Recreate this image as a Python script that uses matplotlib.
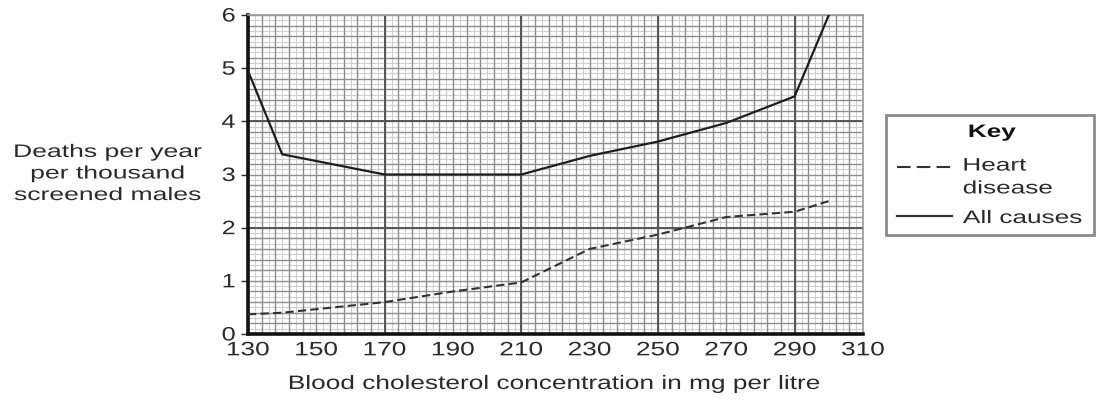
import matplotlib.pyplot as plt
from matplotlib.lines import Line2D
from matplotlib.patches import Rectangle
from matplotlib.patheffects import AbstractPathEffect
from matplotlib.transforms import Affine2D

plt.rcParams['font.family'] = ['Liberation Sans', 'DejaVu Sans']

# cholesterol (mg per litre) and deaths per year per thousand screened males
colesterol_todas = [130, 140, 170, 210, 230, 250, 270, 290, 300]
muertes_todas = [4.95, 3.38, 3.0, 3.0, 3.35, 3.62, 3.97, 4.47, 6.0]

colesterol_corazon = [130, 140, 170, 190, 210, 230, 250, 270, 290, 300]
muertes_corazon = [0.37, 0.4, 0.6, 0.8, 0.97, 1.6, 1.87, 2.2, 2.3, 2.5]

ticks_x = [130, 150, 170, 190, 210, 230, 250, 270, 290, 310]
ticks_y = [0, 1, 2, 3, 4, 5, 6]

TINTA = '#2a2a2a'


# letra ensanchada: escala el trazo del texto en horizontal
class Estirar(AbstractPathEffect):
    def __init__(self, sx, ancla='center'):
        super().__init__()
        self.sx = sx
        self.ancla = ancla

    def draw_path(self, renderer, gc, tpath, affine, rgbFace=None):
        caja = tpath.get_extents(affine)
        if self.ancla == 'left':
            x0 = caja.x0
        elif self.ancla == 'right':
            x0 = caja.x1
        else:
            x0 = (caja.x0 + caja.x1) / 2
        nueva = affine + Affine2D().translate(-x0, 0).scale(self.sx, 1).translate(x0, 0)
        renderer.draw_path(gc, tpath, nueva, rgbFace)


fig = plt.figure(figsize=(10.96, 4.04), dpi=100)
ax = fig.add_axes([248 / 1096, 70 / 404, 615 / 1096, 319 / 404])

# papel milimetrado: cuadros grandes de 40 x 2, cuadritos de 4 x 0.2
for x in range(132, 311, 4):
    ax.axvline(x, color='#d0d0d0', lw=0.8, zorder=0)
for i in range(1, 61, 2):
    ax.axhline(i * 0.1, color='#d0d0d0', lw=0.8, zorder=0)
for x in range(130, 311, 4):
    ax.axvline(x, color='#8e8e8e', lw=1.0, zorder=0)
for i in range(0, 31):
    ax.axhline(i * 0.2, color='#8e8e8e', lw=1.0, zorder=0)
for x in [170, 210, 250, 290]:
    ax.axvline(x, color='#555555', lw=1.4, zorder=1)
for y in [2, 4]:
    ax.axhline(y, color='#555555', lw=1.4, zorder=1)

ax.plot(colesterol_corazon, muertes_corazon, color='#333333', lw=1.5,
        ls=(0, (4, 2)), zorder=3)
ax.plot(colesterol_todas, muertes_todas, color='#1e1e1e', lw=1.6, zorder=3)

ax.set_xlim(130, 310)
ax.set_ylim(0, 6)
ax.set_xticks(ticks_x, labels=[str(v) for v in ticks_x])
ax.set_yticks(ticks_y, labels=[str(v) for v in ticks_y])
ax.tick_params(axis='both', labelsize=14, colors=TINTA, length=5, width=1)
ax.tick_params(axis='x', length=0, pad=6)
ax.tick_params(axis='y', pad=4)
for t in ax.get_xticklabels():
    t.set_path_effects([Estirar(1.35)])
for t in ax.get_yticklabels():
    t.set_path_effects([Estirar(1.3, 'right')])

for lado in ['top', 'right']:
    ax.spines[lado].set_color('#9a9a9a')
    ax.spines[lado].set_linewidth(1.2)
for lado in ['left', 'bottom']:
    ax.spines[lado].set_color('#111111')
    ax.spines[lado].set_linewidth(2.6)

# títulos de los ejes
fig.text(555.5 / 1096, 1 - 389 / 404,
         'Blood cholesterol concentration in mg per litre',
         ha='center', va='baseline', fontsize=14, color=TINTA,
         path_effects=[Estirar(1.35)])
fig.text(107.5 / 1096, 1 - 174 / 404, 'Deaths per year\nper thousand\nscreened males',
         ha='center', va='center', fontsize=13, color=TINTA,
         linespacing=1.35, path_effects=[Estirar(1.47)])

# recuadro de la clave
fig.patches.append(Rectangle((886 / 1096, 1 - 235 / 404), 208 / 1096, 120 / 404,
                             transform=fig.transFigure, fill=False,
                             edgecolor='#8a8a8a', lw=2))
fig.text(992 / 1096, 1 - 137 / 404, 'Key', ha='center', va='baseline',
         fontsize=13, fontweight='bold', color='#111111',
         path_effects=[Estirar(1.45)])
fig.lines.append(Line2D([897 / 1096, 952 / 1096], [1 - 166.5 / 404] * 2,
                        transform=fig.transFigure, color='#333333', lw=1.5,
                        ls=(0, (6.5, 3))))
fig.lines.append(Line2D([897 / 1096, 952 / 1096], [1 - 216 / 404] * 2,
                        transform=fig.transFigure, color='#333333', lw=1.6))
fig.text(963 / 1096, 1 - 177.5 / 404, 'Heart\ndisease', ha='left', va='center',
         fontsize=13, color=TINTA, linespacing=1.45,
         path_effects=[Estirar(1.45, 'left')])
fig.text(963 / 1096, 1 - 223 / 404, 'All causes', ha='left', va='baseline',
         fontsize=13, color=TINTA, path_effects=[Estirar(1.45, 'left')])

plt.savefig('out.png')
plt.close()
